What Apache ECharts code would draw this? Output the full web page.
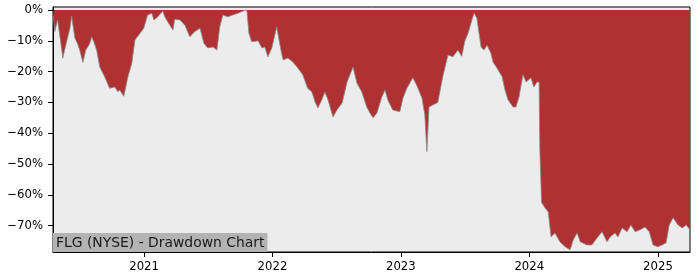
<!DOCTYPE html>
<html>
<head>
<meta charset="utf-8">
<script src="https://cdn.jsdelivr.net/npm/echarts@6/dist/echarts.min.js"></script>
<style>html,body{margin:0;padding:0;background:#fff}#c{width:700px;height:280px}</style>
</head>
<body>
<div id="c"></div>
<script>
const chartTitle = "FLG (NYSE) - Drawdown Chart";
const yearTicks = ["2021-01-01","2022-01-01","2023-01-01","2024-01-01","2025-01-01"];
const yTicks = [0,-10,-20,-30,-40,-50,-60,-70];
const dates = [
"2020-04-17","2020-04-19","2020-04-22","2020-04-26","2020-04-30","2020-05-06","2020-05-15","2020-05-20","2020-05-29","2020-06-04",
"2020-06-09","2020-06-18","2020-06-26","2020-07-02","2020-07-11","2020-07-19","2020-07-28","2020-08-02","2020-08-05","2020-08-11",
"2020-08-19","2020-08-28","2020-09-11","2020-09-25","2020-10-10","2020-10-18","2020-10-24","2020-11-04","2020-11-10","2020-11-16",
"2020-11-27","2020-12-06","2020-12-20","2020-12-31","2021-01-11","2021-01-23","2021-01-29","2021-02-09","2021-02-23","2021-03-01",
"2021-03-09","2021-03-24","2021-03-29","2021-04-13","2021-04-27","2021-05-11","2021-05-25","2021-06-09","2021-06-20","2021-07-01",
"2021-07-16","2021-07-27","2021-08-04","2021-08-13","2021-08-27","2021-09-10","2021-09-25","2021-10-09","2021-10-20","2021-10-26",
"2021-11-03","2021-11-21","2021-12-02","2021-12-10","2021-12-19","2021-12-30","2022-01-13","2022-01-16","2022-01-25","2022-01-31",
"2022-02-14","2022-02-28","2022-03-14","2022-03-28","2022-04-11","2022-04-23","2022-05-02","2022-05-10","2022-05-21","2022-05-30",
"2022-06-08","2022-06-22","2022-07-03","2022-07-18","2022-08-01","2022-08-18","2022-08-29","2022-09-12","2022-09-26","2022-10-05",
"2022-10-14","2022-10-25","2022-11-08","2022-11-17","2022-11-25","2022-12-09","2022-12-29","2023-01-07","2023-01-18","2023-02-04",
"2023-02-15","2023-03-02","2023-03-10","2023-03-16","2023-03-22","2023-04-02","2023-04-16","2023-04-30","2023-05-15","2023-05-29",
"2023-06-12","2023-06-23","2023-07-02","2023-07-11","2023-07-22","2023-07-28","2023-08-05","2023-08-17","2023-08-25","2023-09-03",
"2023-09-14","2023-09-20","2023-10-01","2023-10-16","2023-10-24","2023-11-02","2023-11-16","2023-11-24","2023-12-03","2023-12-14",
"2023-12-23","2024-01-06","2024-01-14","2024-01-23","2024-01-29","2024-01-31","2024-02-05","2024-02-15","2024-02-24","2024-03-03",
"2024-03-14","2024-03-28","2024-04-12","2024-04-26","2024-05-05","2024-05-16","2024-05-25","2024-06-13","2024-06-27","2024-07-12",
"2024-07-26","2024-08-09","2024-08-18","2024-09-01","2024-09-09","2024-09-21","2024-10-05","2024-10-16","2024-10-28","2024-11-11",
"2024-11-25","2024-12-07","2024-12-18","2024-12-31","2025-01-13","2025-01-24","2025-02-02","2025-02-13","2025-02-27","2025-03-11",
"2025-03-22","2025-04-02"
];
const drawdown = [
-2,-3.5,-7,-5,-3.2,-8,-15.6,-13,-8.7,-6,
-2,-9,-11,-13,-17,-13,-11.4,-10,-8.7,-10.3,
-13,-18.5,-21.7,-25.4,-25,-26.5,-26,-28,-25,-21.7,
-17.3,-9.7,-7.6,-5.9,-1.6,-1,-3.2,-2.2,-0.3,-2.2,
-3.8,-6.5,-3,-3.2,-4.9,-8.7,-7,-5.9,-10.8,-12.3,
-12,-13,-5.5,-1.6,-2.2,-1.6,-1,-0.3,0,-7.5,
-10.3,-10,-12.3,-12,-15.2,-12.3,-5.5,-5.5,-13,-16.2,
-15.6,-16.9,-18.8,-21,-25.4,-26.6,-29.8,-31.8,-29.2,-26.6,
-29.2,-34.7,-32.5,-30.2,-23.4,-18.5,-23.7,-26.6,-31.5,-33.4,
-35,-33.4,-28.2,-26,-29.2,-32.5,-33,-28.6,-25.4,-22,
-24.4,-28.6,-34,-46,-31.5,-30.8,-30,-21.7,-14.6,-15.2,
-13,-15,-10,-7.5,-3.2,-1,-2.6,-12,-13,-11.4,
-14,-16.9,-18.8,-21.7,-26,-29.2,-31.5,-31.5,-28.2,-21,
-23.4,-22,-25,-23.4,-23.4,-45,-62.5,-64.3,-65.6,-73.7,
-72.4,-75.3,-76.9,-77.9,-74.7,-72.4,-75.3,-76.3,-76.3,-74,
-72,-75.3,-73.7,-72.4,-73.7,-70.8,-72,-69.8,-72,-71.4,
-70.5,-72,-76.3,-76.9,-76.3,-75.6,-69.8,-67.5,-69.8,-70.8,
-69.8,-71.4
];

const chart = echarts.init(document.getElementById('c'), null, {renderer:'canvas'});
const font = 'DejaVu Sans';
const ts = s => new Date(s + 'T00:00:00Z').getTime();
const seriesData = dates.map((d, i) => [ts(d), drawdown[i]]);
const fmtPct = v => (v < 0 ? '\u2212' + Math.abs(v) : String(v)) + '%';
const xTickVals = yearTicks.map(ts);

chart.setOption({
  animation: false,
  backgroundColor: '#ffffff',
  grid: {left: 53, right: 10, top: 7, bottom: 28, show: true, backgroundColor: '#ececec', borderColor: '#000', borderWidth: 1},
  title: {
    text: chartTitle, left: 53, bottom: 28,
    backgroundColor: '#b3b3b3', padding: [3, 3, 2, 3],
    textStyle: {fontFamily: font, fontSize: 13.9, fontWeight: 'normal', color: '#1a1a1a'}
  },
  xAxis: {
    type: 'value', min: ts('2020-04-17'), max: ts('2025-04-02'),
    axisLine: {show: true, onZero: false, lineStyle: {color: '#000', width: 1}},
    axisTick: {show: true, length: 5, lineStyle: {color: '#000'}, customValues: xTickVals},
    axisLabel: {customValues: xTickVals, formatter: v => String(new Date(v).getUTCFullYear()), fontFamily: font, fontSize: 11.7, color: '#000', margin: 9},
    splitLine: {show: false}
  },
  yAxis: {
    type: 'value', min: -78.6, max: 1,
    axisLine: {show: true, lineStyle: {color: '#000', width: 1}},
    axisTick: {show: true, length: 5, lineStyle: {color: '#000'}, customValues: yTicks},
    axisLabel: {customValues: yTicks, formatter: fmtPct, fontFamily: font, fontSize: 11.7, color: '#000', margin: 10},
    splitLine: {show: false}
  },
  series: [{
    type: 'line', data: seriesData, showSymbol: false, symbol: 'none',
    lineStyle: {color: '#8a8a8a', width: 1, opacity: 0.8},
    areaStyle: {color: '#b03131', opacity: 1, origin: 'auto'},
    z: 1
  }]
});
</script>
</body>
</html>
